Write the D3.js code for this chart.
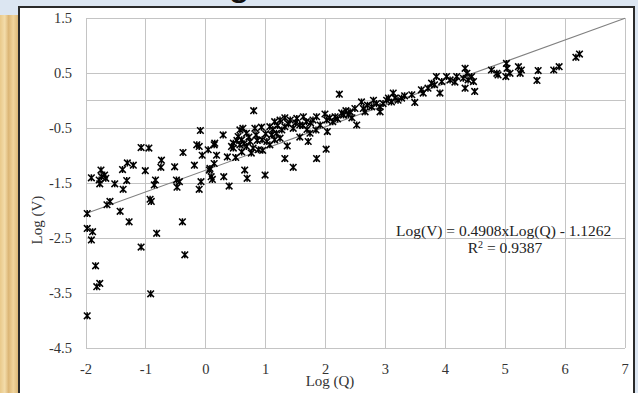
<!DOCTYPE html>
<html>
<head>
<meta charset="utf-8">
<script src="https://cdn.jsdelivr.net/npm/d3@7"></script>
<style>
  body { margin: 0; background: #dce6f2; }
  svg { display: block; }
</style>
</head>
<body>
<svg id="chart" width="638" height="393"></svg>
<script>
// data
const logQ = [-1.98, -1.65, -1.60, -1.43, -1.91, -1.75, -1.78, -1.77, -1.69, -1.67,
  -1.52, -1.39, -1.31, -1.21, -1.38, -1.32, -1.08, -0.95, -1.01, -0.84,
  -0.86, -0.93, -0.91, -0.74, -0.75, -0.52, -0.38, -0.44, -0.48, -0.19,
  -0.09, 0.29, -0.15, -0.11, 0.04, 0.14, -0.06, 0.18, 0.36, 0.07,
  0.14, 0.09, 0.11, -0.08, -0.11, 0.30, 0.39, 0.43, -1.28, -1.98,
  -1.89, -1.91, -0.82, -0.39, -1.08, -0.35, -1.84, -1.77, -1.82, -0.92,
  -1.98, -1.74, -0.49, 0.65, 0.69, 0.99, 1.32, 1.46, 1.71, 1.85,
  2.01, 2.03, 1.36, 0.80, 2.23, 2.52, 0.50, 0.15, 0.06, 0.46,
  0.57, 0.62, 0.82, 0.93, 0.54, 0.60, 0.68, 0.74, 0.68, 0.57,
  0.79, 0.88, 0.46, 0.60, 1.07, 1.15, 1.24, 1.10, 1.18, 1.27,
  1.15, 1.24, 1.02, 1.07, 1.32, 1.41, 1.52, 1.63, 1.46, 1.57,
  1.69, 1.68, 1.79, 1.85, 1.84, 1.99, 2.02, 2.12, 2.16, 2.27,
  2.34, 2.30, 2.41, 2.49, 2.60, 2.63, 2.80, 2.77, 2.91, 2.96,
  2.91, 3.02, 3.13, 3.16, 3.21, 3.10, 3.27, 3.44, 3.49, 3.60,
  3.63, 3.77, 3.82, 3.85, 3.91, 3.94, 4.02, 4.08, 4.19, 4.33,
  4.36, 4.30, 4.44, 4.33, 4.49, 4.47, 4.77, 4.86, 4.88, 5.02,
  5.03, 5.01, 5.08, 5.22, 5.27, 5.25, 5.55, 5.53, 5.81, 5.90,
  6.18, 6.24, 2.07, 1.91, 1.74, 1.57, 0.94, 0.84, 1.32, 2.66,
  2.44, 3.32, 3.71, 4.16, 4.38, 0.72, 0.86, 1.00, 1.12, 1.20,
  1.38, 1.50, 1.62, 1.75, 2.20, 2.38, 2.70, 2.85, 3.05, 0.95,
  0.52, 0.64, 0.76];
const logV = [-2.05, -1.89, -1.83, -2.01, -1.40, -1.26, -1.44, -1.51, -1.35, -1.41,
  -1.51, -1.25, -1.13, -1.17, -1.61, -1.45, -0.85, -0.86, -1.27, -1.44,
  -1.53, -1.79, -1.83, -1.08, -1.21, -1.20, -0.94, -1.47, -1.57, -1.17,
  -0.54, -0.62, -0.80, -0.83, -0.89, -0.80, -0.99, -0.99, -1.02, -1.23,
  -1.14, -1.38, -1.43, -1.47, -1.61, -1.38, -1.55, -0.83, -2.20, -2.32,
  -2.38, -2.53, -2.41, -2.20, -2.66, -2.80, -3.00, -3.32, -3.38, -3.51,
  -3.91, -1.38, -1.44, -1.26, -1.41, -1.35, -1.05, -1.21, -0.74, -1.05,
  -0.88, -0.56, -0.82, -0.18, 0.12, -0.44, -1.03, -0.77, -1.26, -0.77,
  -0.53, -0.50, -0.50, -0.48, -0.65, -0.71, -0.59, -0.74, -0.83, -0.80,
  -0.86, -0.89, -0.86, -0.93, -0.47, -0.38, -0.35, -0.62, -0.59, -0.53,
  -0.71, -0.68, -0.74, -0.80, -0.47, -0.35, -0.32, -0.29, -0.50, -0.44,
  -0.52, -0.38, -0.35, -0.29, -0.53, -0.24, -0.35, -0.38, -0.29, -0.22,
  -0.18, -0.26, -0.20, -0.14, -0.02, -0.14, 0.01, -0.11, -0.11, -0.05,
  -0.20, 0.01, 0.14, 0.05, 0.01, -0.02, 0.05, 0.11, -0.03, 0.20,
  0.14, 0.32, 0.29, 0.44, 0.14, 0.35, 0.44, 0.38, 0.44, 0.59,
  0.50, 0.41, 0.44, 0.23, 0.17, 0.35, 0.56, 0.50, 0.47, 0.68,
  0.59, 0.44, 0.50, 0.62, 0.56, 0.50, 0.55, 0.37, 0.56, 0.62,
  0.79, 0.85, -0.31, -0.44, -0.59, -0.66, -0.71, -0.62, -0.31, -0.20,
  -0.31, 0.09, 0.23, 0.34, 0.38, -0.66, -0.72, -0.60, -0.52, -0.45,
  -0.42, -0.40, -0.45, -0.40, -0.33, -0.25, -0.08, -0.05, 0.05, -0.90,
  -0.72, -0.78, -0.95];

// trendline as drawn (end points)
const trendQ = [-2, 7];
const trendV = [-2.05, 1.5];

const xTicks = [-2, -1, 0, 1, 2, 3, 4, 5, 6, 7];
const yTicks = [1.5, 0.5, -0.5, -1.5, -2.5, -3.5, -4.5];
const equation = 'Log(V) = 0.4908xLog(Q) - 1.1262';
const rSquared = '0.9387';

const svg = d3.select('#chart');
const serif = '"Liberation Serif", "Times New Roman", serif';

// slide background bits
const defs = svg.append('defs');
const grad = defs.append('linearGradient').attr('id', 'wood')
  .attr('x1', 0).attr('x2', 1).attr('y1', 0).attr('y2', 0);
[['0%', '#e9c98a'], ['25%', '#f3dcaa'], ['45%', '#dcb676'], ['70%', '#f0d49c'], ['100%', '#d8b270']]
  .forEach(s => grad.append('stop').attr('offset', s[0]).attr('stop-color', s[1]));

svg.append('rect').attr('x', 0).attr('y', 0).attr('width', 638).attr('height', 393).attr('fill', '#dce6f2');
svg.append('rect').attr('x', 0).attr('y', 15).attr('width', 19).attr('height', 378).attr('fill', 'url(#wood)');
svg.append('text').attr('x', 228).attr('y', -5)
  .attr('font-family', '"Liberation Sans", Arial, sans-serif').attr('font-size', 40)
  .attr('fill', '#111').text('g');

// chart box
svg.append('rect').attr('x', 20).attr('y', 8).attr('width', 614).attr('height', 385).attr('fill', '#fff');
svg.append('path').attr('d', 'M19,393V7H634V393')
  .attr('fill', 'none').attr('stroke', '#2a2a2a').attr('stroke-width', 2);

const x = d3.scaleLinear().domain([-2, 7]).range([86, 625]);
const y = d3.scaleLinear().domain([-4.5, 1.5]).range([348.3, 18.3]);

// grid
const grid = svg.append('g').attr('stroke', '#c4c4c4').attr('stroke-width', 1).attr('shape-rendering', 'crispEdges');
grid.selectAll('.vx').data(xTicks).join('line')
  .attr('x1', d => x(d)).attr('x2', d => x(d))
  .attr('y1', y(1.5)).attr('y2', y(-4.5));
grid.selectAll('.hy').data(yTicks.concat([0])).join('line')
  .attr('x1', x(-2)).attr('x2', x(7))
  .attr('y1', d => y(d)).attr('y2', d => y(d));

// tick labels
svg.append('g').selectAll('text').data(yTicks).join('text')
  .attr('x', 72).attr('y', d => y(d)).attr('dy', '0.35em')
  .attr('text-anchor', 'end').attr('font-family', serif).attr('font-size', 14.5).attr('fill', '#333')
  .text(d => d.toFixed(1));
svg.append('g').selectAll('text').data(xTicks).join('text')
  .attr('x', d => x(d)).attr('y', 374)
  .attr('text-anchor', 'middle').attr('font-family', serif).attr('font-size', 14.5).attr('fill', '#333')
  .text(d => d);

// axis titles
svg.append('text').attr('x', 330).attr('y', 386).attr('text-anchor', 'middle')
  .attr('font-family', serif).attr('font-size', 15).attr('fill', '#333').text('Log (Q)');
svg.append('text').attr('transform', 'translate(42,220) rotate(-90)').attr('text-anchor', 'middle')
  .attr('font-family', serif).attr('font-size', 15).attr('fill', '#333').text('Log (V)');

// trendline
const trend = trendQ.map((q, i) => [q, trendV[i]]);
svg.append('path').datum(trend)
  .attr('fill', 'none').attr('stroke', '#808080').attr('stroke-width', 1.1)
  .attr('d', d3.line().x(d => x(d[0])).y(d => y(d[1])));

// markers (star: x plus vertical bar)
const pts = logQ.map((q, i) => ({ q: q, v: logV[i] }));
const star = 'M-3.3,-3.3L3.3,3.3M-3.3,3.3L3.3,-3.3M0,-3.5V3.5';
svg.append('g').selectAll('path').data(pts).join('path')
  .attr('transform', d => 'translate(' + x(d.q) + ',' + y(d.v) + ')')
  .attr('d', star).attr('fill', 'none').attr('stroke', '#000').attr('stroke-width', 1.5);

// equation
svg.append('text').attr('x', 396).attr('y', 236)
  .attr('font-family', serif).attr('font-size', 15.5).attr('fill', '#222').text(equation);
const r2 = svg.append('text').attr('x', 505).attr('y', 253).attr('text-anchor', 'middle')
  .attr('font-family', serif).attr('font-size', 15.5).attr('fill', '#222');
r2.append('tspan').text('R');
r2.append('tspan').attr('font-size', 10).attr('dy', -5).text('2');
r2.append('tspan').attr('dy', 5).text(' = ' + rSquared);
</script>
</body>
</html>
